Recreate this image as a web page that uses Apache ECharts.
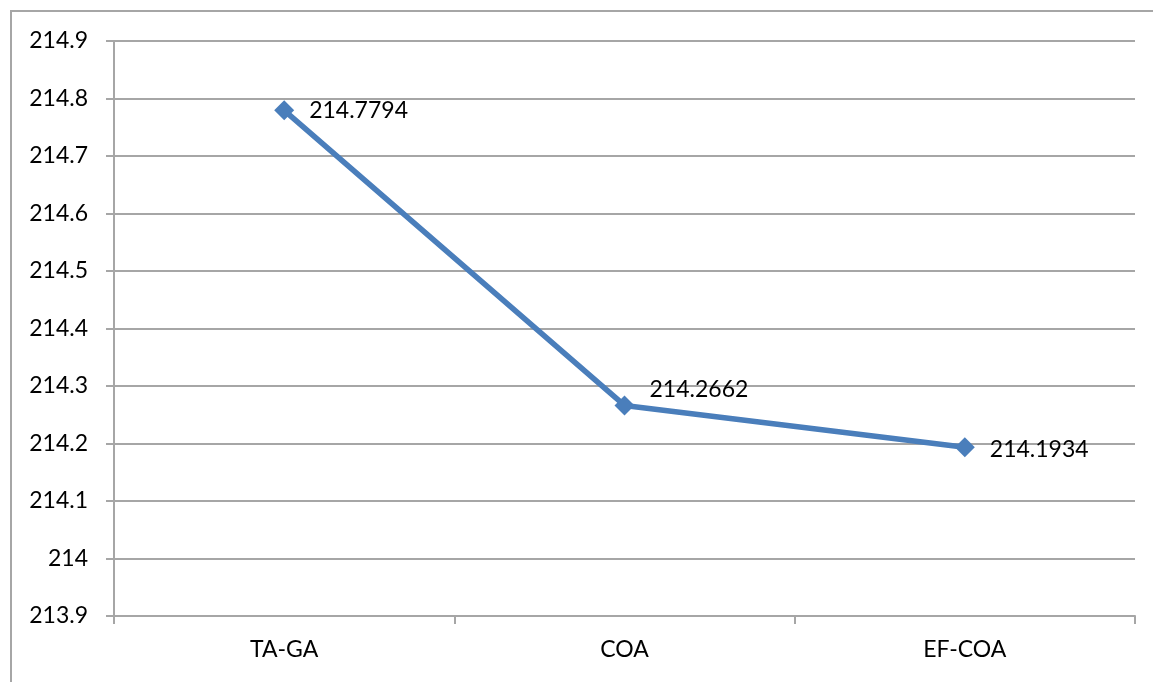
<!DOCTYPE html>
<html>
<head>
<meta charset="utf-8">
<script src="https://cdn.jsdelivr.net/npm/echarts@6/dist/echarts.min.js"></script>
<style>
  html, body { margin: 0; padding: 0; background: #fff; }
  #chart { width: 1153px; height: 682px; }
</style>
</head>
<body>
<div id="chart"></div>
<script>
// Algorithms compared and their resulting values
const categories = ['TA-GA', 'COA', 'EF-COA'];
const values = [214.7794, 214.2662, 214.1934];
// Value axis range
const yMin = 213.9;
const yMax = 214.9;
const yStep = 0.1;

const chart = echarts.init(document.getElementById('chart'));
const fontFamily = 'Lato, "Open Sans", "Noto Sans", sans-serif';
const fontSize = 23;
const gridGrey = '#a6a6a6';

// Label offsets per point (COA label sits above-right of its marker)
const labelOffsets = [[0, 0], [0, -16], [0, 2]];

chart.setOption({
  animation: false,
  backgroundColor: '#ffffff',
  graphic: [{
    type: 'rect',
    shape: { x: 11, y: 11, width: 1160, height: 700 },
    style: { fill: 'none', stroke: gridGrey, lineWidth: 2 },
    silent: true
  }],
  grid: { left: 114, right: 18, top: 41, bottom: 66 },
  xAxis: {
    type: 'category',
    data: categories,
    boundaryGap: true,
    axisLine: { lineStyle: { color: gridGrey, width: 2 } },
    axisTick: { show: true, length: 8, lineStyle: { color: gridGrey, width: 2 } },
    axisLabel: { color: '#000', fontSize: fontSize, fontFamily: fontFamily, margin: 22 },
    splitLine: { show: false }
  },
  yAxis: {
    type: 'value',
    min: yMin,
    max: yMax,
    interval: yStep,
    axisLine: { show: true, lineStyle: { color: gridGrey, width: 2 } },
    axisTick: { show: true, length: 8, lineStyle: { color: gridGrey, width: 2 } },
    axisLabel: {
      color: '#000', fontSize: fontSize, fontFamily: fontFamily, margin: 26,
      formatter: v => String(parseFloat(v.toFixed(1)))
    },
    splitLine: { show: true, lineStyle: { color: gridGrey, width: 2 } }
  },
  series: [{
    type: 'line',
    data: values.map((v, i) => ({
      value: v,
      label: { offset: labelOffsets[i] }
    })),
    symbol: 'diamond',
    symbolSize: 20,
    lineStyle: { color: '#4a7ebb', width: 5.5 },
    itemStyle: { color: '#4a7ebb' },
    label: {
      show: true,
      position: 'right',
      distance: 15,
      color: '#000',
      fontSize: fontSize,
      fontFamily: fontFamily,
      formatter: p => p.value.toFixed(4)
    }
  }]
});
</script>
</body>
</html>
